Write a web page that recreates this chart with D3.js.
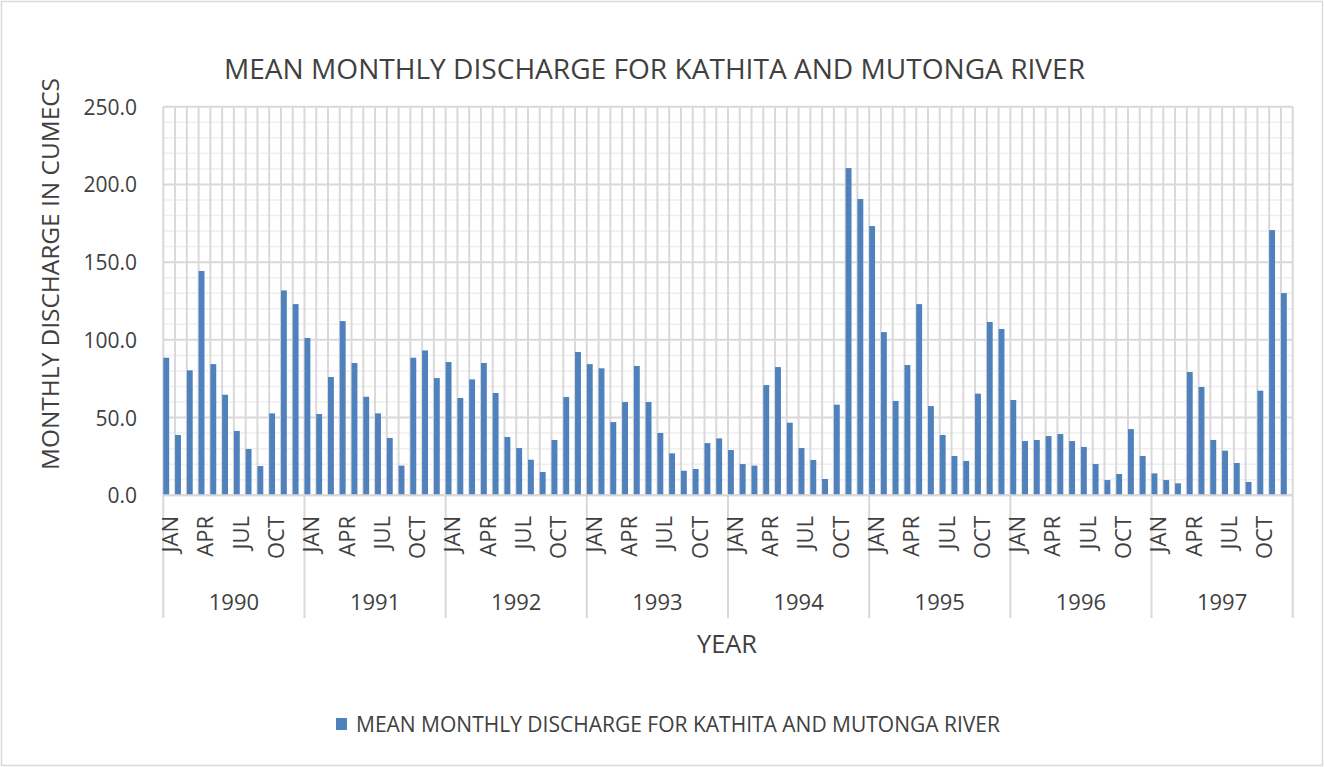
<!DOCTYPE html>
<html>
<head>
<meta charset="utf-8">
<script src="https://cdn.jsdelivr.net/npm/d3@7"></script>
<style>
  html, body { margin: 0; padding: 0; background: #fff; }
  svg { display: block; }
  text { font-family: "Open Sans", "DejaVu Sans", sans-serif; fill: #404040; }
</style>
</head>
<body>
<svg id="chart" width="1324" height="767"></svg>
<script>
// Mean monthly discharge (cumecs), Kathita and Mutonga river, 1990-1997
const years = [1990, 1991, 1992, 1993, 1994, 1995, 1996, 1997];
const months = ["JAN", "FEB", "MAR", "APR", "MAY", "JUN", "JUL", "AUG", "SEP", "OCT", "NOV", "DEC"];
const shownMonths = ["JAN", "APR", "JUL", "OCT"];
const yTicks = [0, 50, 100, 150, 200, 250];

const d1990 = [88.5, 38.8, 80.4, 144.3, 84.4, 64.7, 41.4, 29.8, 18.8, 52.7, 131.8, 123.0];
const d1991 = [101.2, 52.3, 76.1, 112.1, 85.1, 63.4, 52.7, 36.9, 19.1, 88.5, 93.2, 75.4];
const d1992 = [85.7, 62.6, 74.6, 85.1, 65.8, 37.5, 30.4, 22.9, 15.0, 35.6, 63.2, 92.2];
const d1993 = [84.4, 81.7, 47.1, 60.0, 83.2, 60.0, 40.1, 27.0, 15.8, 16.9, 33.6, 36.6];
const d1994 = [29.1, 20.1, 19.1, 70.9, 82.5, 46.7, 30.4, 22.7, 10.5, 58.3, 210.5, 190.6];
const d1995 = [173.2, 105.0, 60.7, 83.8, 123.0, 57.4, 38.8, 25.3, 22.1, 65.4, 111.5, 107.0];
const d1996 = [61.3, 34.9, 35.6, 38.1, 39.4, 34.9, 31.1, 20.1, 9.8, 13.7, 42.6, 25.3];
const d1997 = [14.1, 9.8, 7.7, 79.3, 69.7, 35.6, 28.7, 20.8, 8.6, 67.3, 170.6, 130.1];

const seriesName = "MEAN MONTHLY DISCHARGE FOR KATHITA AND MUTONGA RIVER";
const chartTitle = "MEAN MONTHLY DISCHARGE FOR KATHITA AND MUTONGA RIVER";
const yTitle = "MONTHLY DISCHARGE IN CUMECS";
const xTitle = "YEAR";

const byYear = [d1990, d1991, d1992, d1993, d1994, d1995, d1996, d1997];
const data = [];
years.forEach((yr, yi) => {
  months.forEach((m, mi) => {
    data.push({ key: yr + "-" + m, year: yr, month: m, value: byYear[yi][mi] });
  });
});

const svg = d3.select("#chart");
const W = 1324, H = 767;
const plot = { left: 163.3, right: 1292.7, top: 106.7, bottom: 495.3 };
const grid = "#d9d9d9";
const minorGrid = "#efefef";
const barColor = "#4f81bd";

// Chart border
svg.append("rect")
  .attr("x", 1.5).attr("y", 1.5)
  .attr("width", W - 3).attr("height", H - 3)
  .attr("fill", "#fff").attr("stroke", grid).attr("stroke-width", 1.5);

const x = d3.scaleBand()
  .domain(data.map(d => d.key))
  .range([plot.left, plot.right])
  .paddingInner(0).paddingOuter(0);

const y = d3.scaleLinear()
  .domain([0, 250])
  .range([plot.bottom, plot.top]);

const yearBand = d3.scaleBand()
  .domain(years)
  .range([plot.left, plot.right]);

// Minor horizontal gridlines every 10
const minorVals = d3.range(0, 251, 10).filter(v => v % 50 !== 0);
svg.append("g").selectAll("line").data(minorVals).join("line")
  .attr("x1", plot.left).attr("x2", plot.right)
  .attr("y1", d => y(d)).attr("y2", d => y(d))
  .attr("stroke", minorGrid).attr("stroke-width", 1.5);

// Major horizontal gridlines
svg.append("g").selectAll("line").data(yTicks).join("line")
  .attr("x1", plot.left).attr("x2", plot.right)
  .attr("y1", d => y(d)).attr("y2", d => y(d))
  .attr("stroke", grid).attr("stroke-width", 2);

// Vertical gridlines at each category boundary
const boundaries = data.map(d => x(d.key)).concat([plot.right]);
svg.append("g").selectAll("line").data(boundaries).join("line")
  .attr("x1", d => d).attr("x2", d => d)
  .attr("y1", plot.top).attr("y2", plot.bottom)
  .attr("stroke", grid).attr("stroke-width", 2);

// Bars: occupy the leading half of each category slot
svg.append("g").selectAll("rect").data(data).join("rect")
  .attr("x", d => x(d.key))
  .attr("width", x.bandwidth() / 2)
  .attr("y", d => y(d.value))
  .attr("height", d => y(0) - y(d.value))
  .attr("fill", barColor);

// Category axis line
svg.append("line")
  .attr("x1", plot.left).attr("x2", plot.right)
  .attr("y1", plot.bottom).attr("y2", plot.bottom)
  .attr("stroke", grid).attr("stroke-width", 2);

// Year group separators below the axis
const yearEdges = years.map(yr => yearBand(yr)).concat([plot.right]);
svg.append("g").selectAll("line").data(yearEdges).join("line")
  .attr("x1", d => d).attr("x2", d => d)
  .attr("y1", plot.bottom).attr("y2", 618)
  .attr("stroke", grid).attr("stroke-width", 2);

// Y axis tick labels
const yAxis = d3.axisLeft(y).tickValues(yTicks).tickFormat(d3.format(".1f")).tickSize(0).tickPadding(0);
const yg = svg.append("g").attr("transform", `translate(${137},0)`).call(yAxis);
yg.select(".domain").remove();
yg.selectAll("text")
  .attr("font-family", null)
  .style("font-size", "21px")
  .attr("fill", null)
  .attr("dy", "0.36em");

// Month labels (rotated, every third month)
const monthData = data.filter(d => shownMonths.includes(d.month));
svg.append("g").selectAll("text").data(monthData).join("text")
  .attr("transform", d => `translate(${x(d.key) + x.bandwidth() / 2 + 1},${516}) rotate(-90)`)
  .attr("text-anchor", "end")
  .attr("dy", "0.36em")
  .style("font-size", "22px")
  .text(d => d.month);

// Year labels
svg.append("g").selectAll("text").data(years).join("text")
  .attr("x", d => yearBand(d) + yearBand.bandwidth() / 2)
  .attr("y", 610)
  .attr("text-anchor", "middle")
  .style("font-size", "22px")
  .text(d => d);

// Chart title
svg.append("text")
  .attr("x", 654.5).attr("y", 79)
  .attr("text-anchor", "middle")
  .attr("textLength", 861).attr("lengthAdjust", "spacingAndGlyphs")
  .style("font-size", "28px")
  .text(chartTitle);

// Axis titles
svg.append("text")
  .attr("transform", `translate(${59},${274}) rotate(-90)`)
  .attr("text-anchor", "middle")
  .attr("textLength", 392).attr("lengthAdjust", "spacingAndGlyphs")
  .style("font-size", "23px")
  .text(yTitle);

svg.append("text")
  .attr("x", 727).attr("y", 653)
  .attr("text-anchor", "middle")
  .attr("textLength", 60).attr("lengthAdjust", "spacingAndGlyphs")
  .style("font-size", "26px")
  .text(xTitle);

// Legend
const legend = svg.append("g");
legend.append("rect")
  .attr("x", 336).attr("y", 718).attr("width", 11).attr("height", 12)
  .attr("fill", barColor);
legend.append("text")
  .attr("x", 356).attr("y", 732)
  .attr("textLength", 644).attr("lengthAdjust", "spacingAndGlyphs")
  .style("font-size", "21px")
  .text(seriesName);
</script>
</body>
</html>
